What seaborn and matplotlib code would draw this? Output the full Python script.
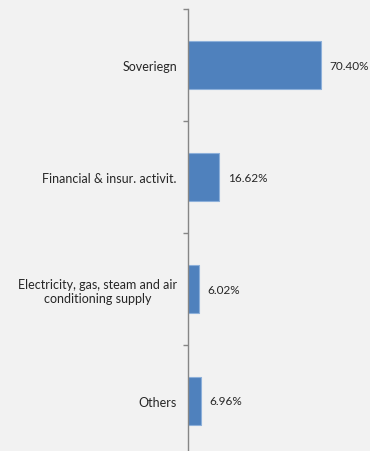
import matplotlib
matplotlib.use("Agg")
import matplotlib.pyplot as plt
import seaborn as sns
import pandas as pd
from matplotlib.ticker import FixedLocator

categories = ["Soveriegn", "Financial & insur. activit.",
              "Electricity, gas, steam and air\nconditioning supply", "Others"]
values = [70.40, 16.62, 6.02, 6.96]
value_labels = ["70.40%", "16.62%", "6.02%", "6.96%"]

df = pd.DataFrame({"category": categories, "value": values})

sns.set_style("white")
plt.rcParams['font.family'] = ['Lato', 'DejaVu Sans']

bg = "#F2F2F2"
fig = plt.figure(figsize=(3.7, 4.52), dpi=100, facecolor=bg)
ax = fig.add_axes([188/370, 0.0, 1 - 188/370, 442/452])
ax.set_facecolor(bg)

sns.barplot(data=df, y="category", x="value", orient="h", color="#4F81BD",
            width=0.425, saturation=1, edgecolor="#8DB0DA", linewidth=0.8, ax=ax)

ax.set_xlim(0, 182 / 1.889)
ax.set_ylim(442 / 112 - 0.5, -0.5)

for i, (v, lab) in enumerate(zip(values, value_labels)):
    ax.annotate(lab, xy=(v, i), xytext=(6, 0), textcoords="offset points",
                va="center", ha="left", fontsize=8.5, color="#262626")

for s in ["top", "right", "bottom"]:
    ax.spines[s].set_visible(False)
ax.spines["left"].set_color("#868686")
ax.spines["left"].set_linewidth(1.0)

ax.set_xticks([])
ax.set_xlabel("")
ax.set_ylabel("")
ax.tick_params(axis="y", which="major", left=False, length=0, pad=8, labelsize=9, labelcolor="#262626")
ax.yaxis.set_minor_locator(FixedLocator([-0.5, 0.5, 1.5, 2.5]))
ax.tick_params(axis="y", which="minor", left=True, length=3.5, width=1.0, color="#868686", direction="out")
for t in ax.get_yticklabels():
    t.set_multialignment("center")

fig.savefig("out.png", dpi=100, facecolor=bg)
